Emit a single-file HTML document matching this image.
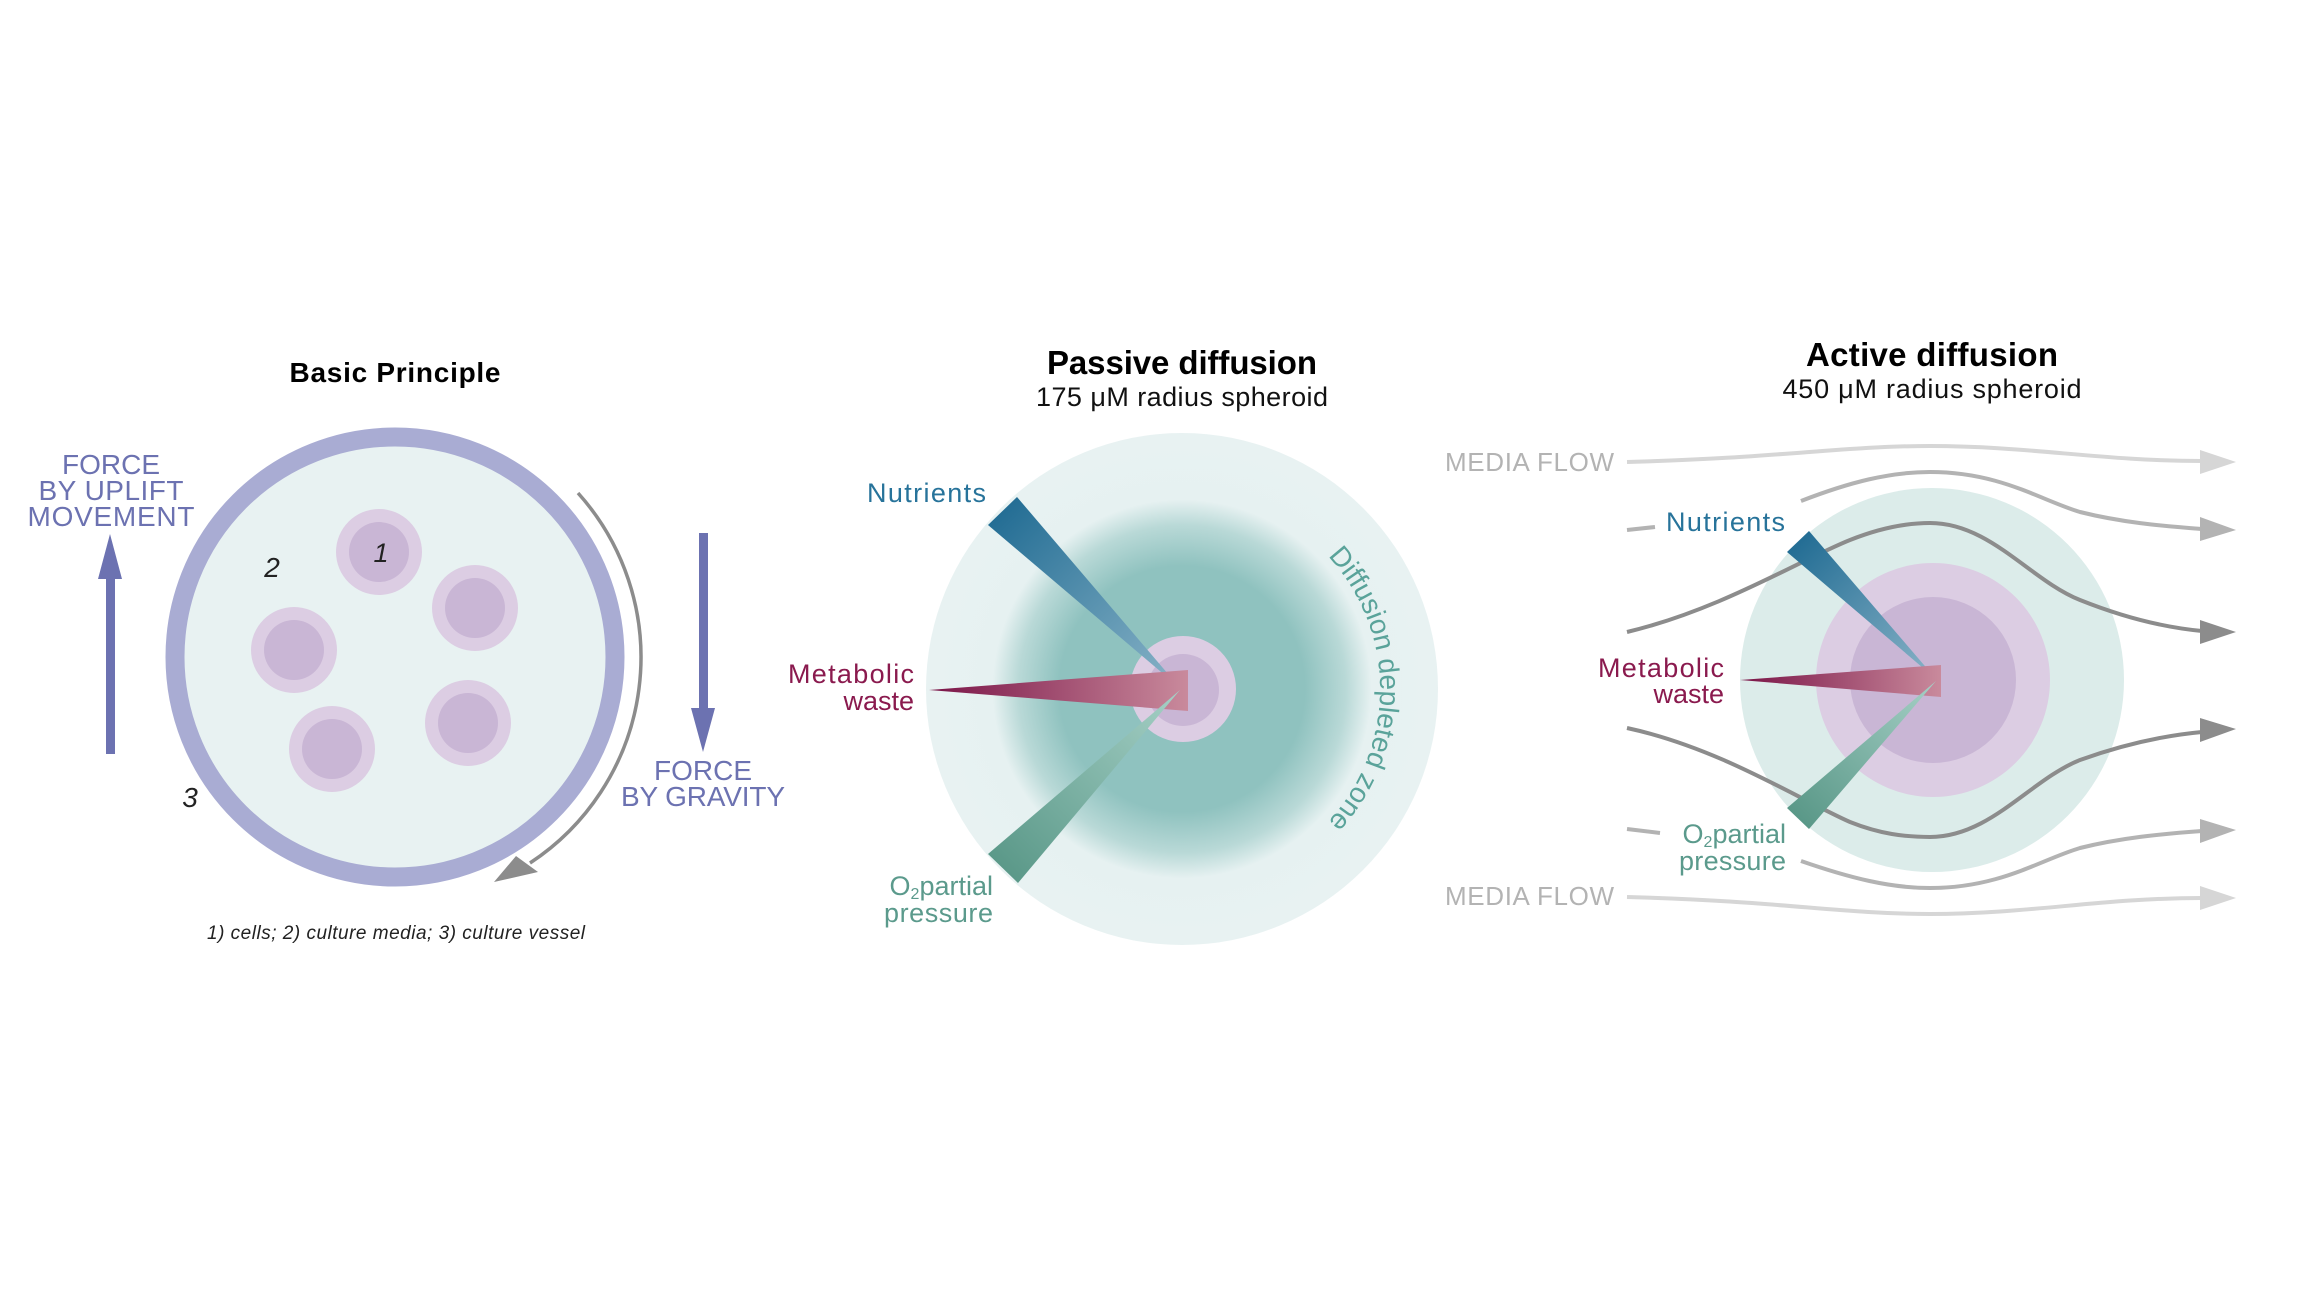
<!DOCTYPE html>
<html><head><meta charset="utf-8"><style>
html,body{margin:0;padding:0;background:#fff;}
svg{display:block;}
text{font-family:"Liberation Sans",sans-serif;}
</style></head><body>
<svg width="2304" height="1296" viewBox="0 0 2304 1296" xmlns="http://www.w3.org/2000/svg">
<defs>
<radialGradient id="dz" cx="1182" cy="689" r="256" gradientUnits="userSpaceOnUse">
<stop offset="0" stop-color="#8fc2bf"/><stop offset="0.48" stop-color="#8fc2bf"/><stop offset="0.64" stop-color="#b9d9d7"/><stop offset="0.74" stop-color="#e6f1f1"/><stop offset="1" stop-color="#e8f2f2"/>
</radialGradient>
<linearGradient id="gn" x1="1000" y1="510" x2="1180" y2="688" gradientUnits="userSpaceOnUse"><stop offset="0" stop-color="#236d94"/><stop offset="1" stop-color="#8ab4c8"/></linearGradient>
<linearGradient id="gw" x1="929" y1="690" x2="1188" y2="690" gradientUnits="userSpaceOnUse"><stop offset="0" stop-color="#7a1447"/><stop offset="1" stop-color="#c98a9c"/></linearGradient>
<linearGradient id="go" x1="1000" y1="870" x2="1180" y2="690" gradientUnits="userSpaceOnUse"><stop offset="0" stop-color="#5a9888"/><stop offset="1" stop-color="#a6d0c6"/></linearGradient>
<linearGradient id="gn2" x1="1798" y1="541" x2="1936" y2="679" gradientUnits="userSpaceOnUse"><stop offset="0" stop-color="#236d94"/><stop offset="1" stop-color="#8ab4c8"/></linearGradient>
<linearGradient id="gw2" x1="1740" y1="680" x2="1941" y2="680" gradientUnits="userSpaceOnUse"><stop offset="0" stop-color="#7a1447"/><stop offset="1" stop-color="#c98a9c"/></linearGradient>
<linearGradient id="go2" x1="1798" y1="818" x2="1936" y2="680" gradientUnits="userSpaceOnUse"><stop offset="0" stop-color="#5a9888"/><stop offset="1" stop-color="#a6d0c6"/></linearGradient>
<path id="arcz" d="M 1308.6 538.1 A 195 195 0 0 1 1308.6 839.9" fill="none"/>
</defs>

<!-- Basic Principle -->
<text x="395" y="382" font-size="28" font-weight="bold" text-anchor="middle" textLength="211" fill="#000">Basic Principle</text>
<circle cx="395" cy="657" r="220" fill="#e8f2f2" stroke="#a9acd3" stroke-width="19"/>
<g>
<circle cx="379" cy="552" r="43" fill="#dccde3"/><circle cx="379" cy="552" r="30" fill="#c9b6d5"/>
<circle cx="475" cy="608" r="43" fill="#dccde3"/><circle cx="475" cy="608" r="30" fill="#c9b6d5"/>
<circle cx="294" cy="650" r="43" fill="#dccde3"/><circle cx="294" cy="650" r="30" fill="#c9b6d5"/>
<circle cx="332" cy="749" r="43" fill="#dccde3"/><circle cx="332" cy="749" r="30" fill="#c9b6d5"/>
<circle cx="468" cy="723" r="43" fill="#dccde3"/><circle cx="468" cy="723" r="30" fill="#c9b6d5"/>
</g>
<text x="381" y="562" font-size="27" font-style="italic" text-anchor="middle" fill="#222">1</text>
<text x="272" y="577" font-size="28" font-style="italic" text-anchor="middle" fill="#222">2</text>
<text x="190" y="807" font-size="28" font-style="italic" text-anchor="middle" fill="#222">3</text>
<!-- up arrow -->
<rect x="106" y="576" width="9" height="178" fill="#6c72b1"/>
<polygon points="110,534 98,579 122,579" fill="#6c72b1"/>
<g fill="#6c72b1" font-size="28" text-anchor="middle">
<text x="111" y="474" textLength="98">FORCE</text>
<text x="111" y="500" textLength="145">BY UPLIFT</text>
<text x="111" y="526" textLength="167">MOVEMENT</text>
</g>
<!-- down arrow -->
<rect x="699" y="533" width="9" height="178" fill="#6c72b1"/>
<polygon points="703,752 691,708 715,708" fill="#6c72b1"/>
<g fill="#6c72b1" font-size="28" text-anchor="middle">
<text x="703" y="789" textLength="98" dy="-9">FORCE</text>
<text x="703" y="815" textLength="164" dy="-9">BY GRAVITY</text>
</g>
<!-- gray arc -->
<path d="M 578 493 A 246 246 0 0 1 530 863" fill="none" stroke="#8c8c8c" stroke-width="3.5"/>
<polygon points="494,882 516,856 538,872" fill="#8c8c8c"/>
<text x="396" y="939" font-size="19" font-style="italic" text-anchor="middle" textLength="378" fill="#222">1) cells; 2) culture media; 3) culture vessel</text>

<!-- Passive diffusion -->
<text x="1182" y="374" font-size="33" font-weight="bold" text-anchor="middle" textLength="270" fill="#000">Passive diffusion</text>
<text x="1182" y="406" font-size="27" text-anchor="middle" textLength="292" fill="#111">175 μM radius spheroid</text>
<circle cx="1182" cy="689" r="256" fill="url(#dz)"/>
<circle cx="1183" cy="689" r="53" fill="#dccde3"/>
<circle cx="1183" cy="690" r="36" fill="#c9b6d5"/>
<polygon points="988,525 1017,497 1180,688" fill="url(#gn)"/>
<polygon points="929,690 1188,670 1188,711" fill="url(#gw)"/>
<polygon points="988,854 1018,883 1180,690" fill="url(#go)"/>
<text x="986" y="502" font-size="27" text-anchor="end" textLength="119" fill="#27739a">Nutrients</text>
<text x="914" y="683" font-size="27" text-anchor="end" textLength="126" fill="#8a1a4e">Metabolic</text>
<text x="914" y="710" font-size="27" text-anchor="end" fill="#8a1a4e">waste</text>
<text x="993" y="895" font-size="27" text-anchor="end" fill="#5b9a8c">O<tspan font-size="16" dy="4">2</tspan><tspan dy="-4">partial</tspan></text>
<text x="993" y="922" font-size="27" text-anchor="end" textLength="109" fill="#5b9a8c">pressure</text>
<text font-size="28" fill="#5aa39a"><textPath href="#arcz" startOffset="50%" text-anchor="middle">Diffusion depleted zone</textPath></text>

<!-- Active diffusion -->
<text x="1932" y="366" font-size="33" font-weight="bold" text-anchor="middle" textLength="252" fill="#000">Active diffusion</text>
<text x="1932" y="398" font-size="27" text-anchor="middle" textLength="299" fill="#111">450 μM radius spheroid</text>
<circle cx="1932" cy="680" r="192" fill="#dcecea"/>
<circle cx="1933" cy="680" r="117" fill="#dccde3"/>
<circle cx="1933" cy="680" r="83" fill="#c9b6d5"/>
<g fill="none" stroke-width="4">
<path d="M 1627 462 C 1780 458 1840 446 1930 446 C 2030 446 2100 461 2202 461" stroke="#d6d6d6"/>
<path d="M 1801 501 C 1850 482 1890 472 1930 472 C 2000 472 2040 500 2080 512 C 2120 522 2160 526 2202 529" stroke="#b3b3b3"/>
<path d="M 1627 530 L 1655 527" stroke="#b3b3b3"/>
<path d="M 1627 632 C 1720 610 1800 560 1850 540 C 1880 528 1905 523 1930 523 C 1990 523 2030 580 2080 600 C 2130 620 2170 628 2202 631" stroke="#8c8c8c"/>
<path d="M 1627 728 C 1720 748 1800 800 1850 822 C 1880 834 1905 837 1930 837 C 1990 837 2030 780 2080 760 C 2130 742 2170 735 2202 732" stroke="#8c8c8c"/>
<path d="M 1627 829 L 1660 833" stroke="#b3b3b3"/>
<path d="M 1801 861 C 1850 878 1890 888 1930 888 C 2000 888 2040 860 2080 848 C 2120 838 2160 834 2202 831" stroke="#b3b3b3"/>
<path d="M 1627 897 C 1780 901 1840 914 1930 914 C 2030 914 2100 898 2202 898" stroke="#d6d6d6"/>
</g>
<polygon points="2236,462 2200,450 2200,474" fill="#d6d6d6"/>
<polygon points="2236,530 2200,517 2200,541" fill="#b3b3b3"/>
<polygon points="2236,632 2200,620 2200,644" fill="#8c8c8c"/>
<polygon points="2236,729 2200,718 2200,742" fill="#8c8c8c"/>
<polygon points="2236,830 2200,819 2200,843" fill="#b3b3b3"/>
<polygon points="2236,898 2200,886 2200,910" fill="#d6d6d6"/>
<polygon points="1787,552 1809,531 1936,679" fill="url(#gn2)"/>
<polygon points="1740,680 1941,665 1941,697" fill="url(#gw2)"/>
<polygon points="1787,808 1809,829 1936,681" fill="url(#go2)"/>
<text x="1445" y="471" font-size="26" textLength="169" fill="#b3b3b3">MEDIA FLOW</text>
<text x="1445" y="905" font-size="26" textLength="169" fill="#b3b3b3">MEDIA FLOW</text>
<text x="1785" y="531" font-size="27" text-anchor="end" textLength="119" fill="#27739a">Nutrients</text>
<text x="1724" y="677" font-size="27" text-anchor="end" textLength="126" fill="#8a1a4e">Metabolic</text>
<text x="1724" y="703" font-size="27" text-anchor="end" fill="#8a1a4e">waste</text>
<text x="1786" y="843" font-size="27" text-anchor="end" fill="#5b9a8c">O<tspan font-size="16" dy="4">2</tspan><tspan dy="-4">partial</tspan></text>
<text x="1786" y="870" font-size="27" text-anchor="end" textLength="107" fill="#5b9a8c">pressure</text>
</svg>
</body></html>
